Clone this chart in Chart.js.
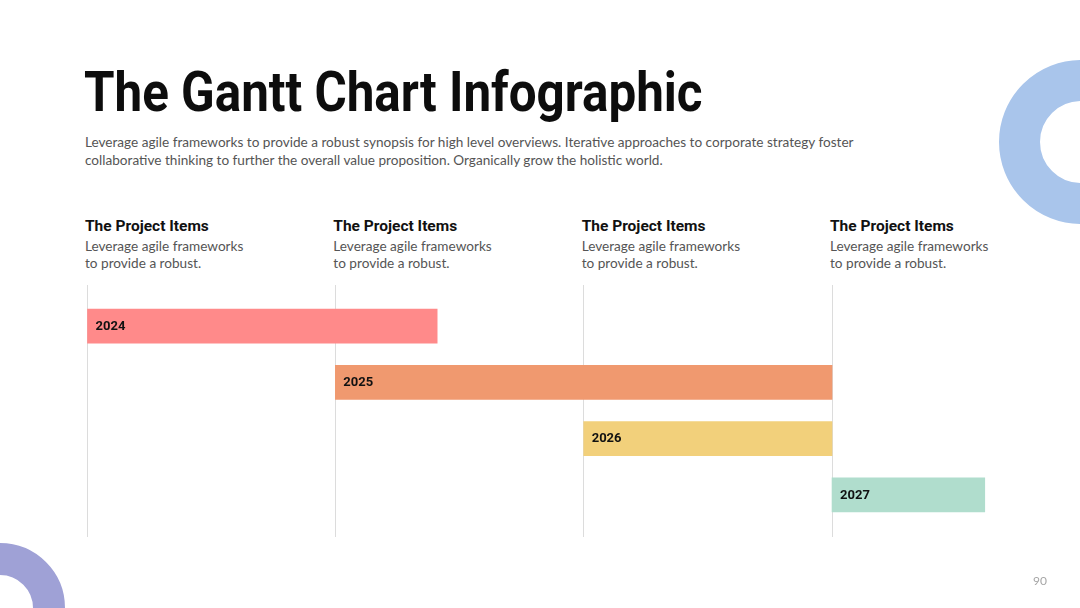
<!DOCTYPE html>
<html>
<head>
<meta charset="utf-8">
<script src="https://cdn.jsdelivr.net/npm/chart.js@4.4.1/dist/chart.umd.min.js"></script>
<style>
html,body{margin:0;padding:0;background:#fff;}
#wrap{position:relative;width:1080px;height:608px;overflow:hidden;background:#fff;}
#chart{position:absolute;left:0;top:0;}
.ring{position:absolute;border-radius:50%;box-sizing:border-box;}
#ring1{left:999px;top:60px;width:164px;height:164px;border:41px solid #a9c5eb;}
#ring2{left:-65px;top:543px;width:130px;height:130px;border:32.5px solid #9fa1d6;}
#title{position:absolute;left:84px;top:65px;margin:0;font:700 55px/55px Roboto;color:#0d0d0d;white-space:nowrap;transform:scaleX(0.897);transform-origin:0 0;}
#sub{position:absolute;left:85px;top:133px;margin:0;font:400 13.6px/18px Lato;color:#555;white-space:nowrap;}
.col{position:absolute;top:216px;}
.col h3{margin:0;font:700 15.5px/20px Roboto;color:#111;white-space:nowrap;}
.col p{margin:2px 0 0 0;font:400 13.6px/16.7px Lato;color:#555;white-space:nowrap;}
#page{position:absolute;left:1033px;top:574px;font:400 12px/14px Lato;color:#a6a6a6;}
</style>
</head>
<body>
<div id="wrap">
  <div class="ring" id="ring1"></div>
  <div class="ring" id="ring2"></div>
  <h1 id="title">The Gantt Chart Infographic</h1>
  <p id="sub">Leverage agile frameworks to provide a robust synopsis for high level overviews. Iterative approaches to corporate strategy foster<br>collaborative thinking to further the overall value proposition. Organically grow the holistic world.</p>
  <div id="cols"></div>
  <canvas id="chart" width="1080" height="608"></canvas>
  <div id="page">90</div>
</div>
<script>
// ---- data ----
const categories = ['2024', '2025', '2026', '2027'];
const startValues = [0, 1, 2, 3];
const endValues = [1.41, 3, 3, 3.615];
const barColors = ['#ff8a8a', '#f0996f', '#f2d07b', '#b0ddcd'];
const gridTicks = [0, 1, 2, 3];
const columnTitles = ['The Project Items', 'The Project Items', 'The Project Items', 'The Project Items'];
const columnText1 = ['Leverage agile frameworks', 'Leverage agile frameworks', 'Leverage agile frameworks', 'Leverage agile frameworks'];
const columnText2 = ['to provide a robust.', 'to provide a robust.', 'to provide a robust.', 'to provide a robust.'];
const axisMin = 0;
const axisMax = 3.62;

const barLabelPlugin = {
  id: 'barLabels',
  afterDatasetsDraw(chart) {
    const meta = chart.getDatasetMeta(0);
    const ctx = chart.ctx;
    ctx.save();
    ctx.font = '700 13px Roboto';
    ctx.fillStyle = '#111';
    ctx.textBaseline = 'middle';
    ctx.textAlign = 'left';
    meta.data.forEach((bar, i) => {
      const left = Math.min(bar.x, bar.base);
      ctx.fillText(categories[i], left + 8, bar.y + 0.5);
    });
    ctx.restore();
  }
};

const columnPlugin = {
  id: 'columns',
  afterRender(chart) {
    const holder = document.getElementById('cols');
    if (holder.childElementCount) return;
    const xs = chart.scales.x;
    gridTicks.forEach((v, i) => {
      const d = document.createElement('div');
      d.className = 'col';
      d.style.left = (xs.getPixelForValue(v) - 2) + 'px';
      d.innerHTML = '<h3>' + columnTitles[i] + '</h3><p>' + columnText1[i] + '<br>' + columnText2[i] + '</p>';
      holder.appendChild(d);
    });
  }
};

function setTicks(scale) {
  scale.ticks = gridTicks.map(v => ({ value: v }));
}

function draw() {
  new Chart(document.getElementById('chart'), {
    type: 'bar',
    data: {
      labels: categories,
      datasets: [{
        data: categories.map((c, i) => [startValues[i], endValues[i]]),
        backgroundColor: barColors,
        borderWidth: 0,
        borderSkipped: false,
        barThickness: 34
      }]
    },
    options: {
      indexAxis: 'y',
      responsive: false,
      animation: false,
      layout: { padding: { left: 87, right: 94, top: 285, bottom: 71 } },
      plugins: { legend: { display: false }, tooltip: { enabled: false } },
      scales: {
        x: {
          type: 'linear', position: 'top', min: axisMin, max: axisMax,
          afterBuildTicks: setTicks,
          ticks: { display: false },
          grid: { color: '#dcdcdc', lineWidth: 1, drawTicks: true, tickLength: 13 },
          border: { display: false }
        },
        x2: {
          type: 'linear', position: 'bottom', min: axisMin, max: axisMax,
          afterBuildTicks: setTicks,
          ticks: { display: false },
          grid: { color: '#dcdcdc', lineWidth: 1, drawOnChartArea: false, drawTicks: true, tickLength: 14 },
          border: { display: false }
        },
        y: { display: false }
      }
    },
    plugins: [barLabelPlugin, columnPlugin]
  });
}

Promise.all([
  document.fonts.load('700 14px Roboto'),
  document.fonts.load('400 14px Lato')
]).then(draw, draw);
</script>
</body>
</html>
